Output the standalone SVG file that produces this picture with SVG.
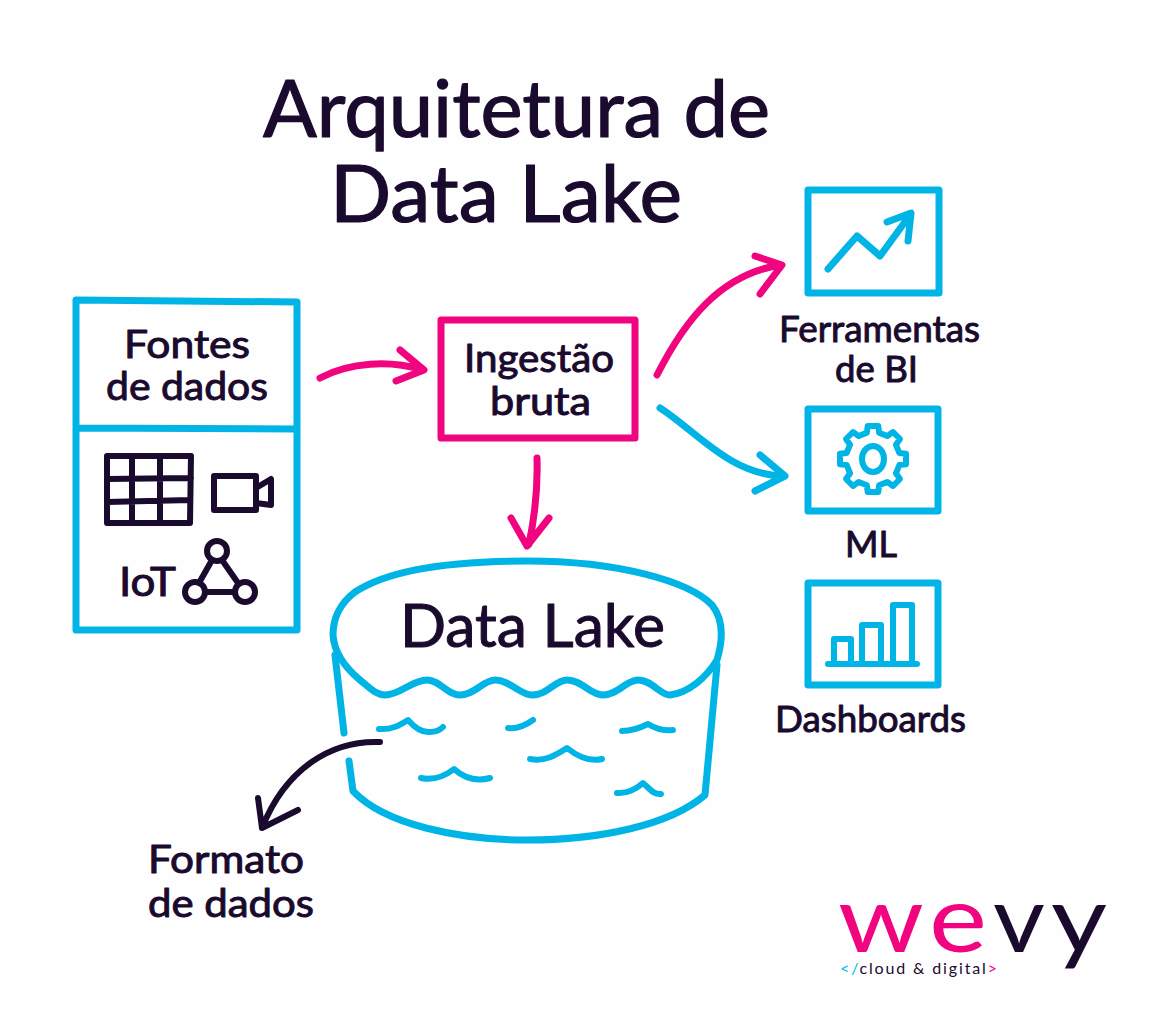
<svg xmlns="http://www.w3.org/2000/svg" width="1151" height="1024" viewBox="0 0 1151 1024">
<style>
text{font-family:"Lato","Noto Sans",sans-serif;fill:#1a0b2e;stroke:#1a0b2e;stroke-width:1px;text-anchor:start;stroke-linejoin:round}
.c,.p,.d{fill:none;stroke-linecap:round;stroke-linejoin:round}
.c{stroke:#00b5e6;stroke-width:7}
.p{stroke:#f0047f;stroke-width:7}
.d{stroke:#1a0b2e;stroke-width:6}
.t{stroke:#00b5e6;stroke-width:6;fill:none;stroke-linecap:round;stroke-linejoin:round}
.logo{stroke-width:0}
</style>
<rect width="1151" height="1024" fill="#fefefe"/>
<g id="title">
<text x="263" y="137" font-size="79" textLength="507" lengthAdjust="spacingAndGlyphs" style="stroke-width:1.2px">Arquitetura de</text>
<text x="330" y="222" font-size="79" textLength="352" lengthAdjust="spacingAndGlyphs" style="stroke-width:1.2px">Data Lake</text>
</g>
<g id="connectors">
<path class="p" d="M320,378C350,362 390,360 422,370M400,350L424,370L396,381"/>
<path class="p" d="M537,458C538,490 534,520 529,544M511,518L527,546L549,518"/>
<path class="p" d="M657,375C685,320 720,275 780,265M755,256L782,265L760,294"/>
<path class="c" d="M660,408C695,430 730,475 783,476M760,455L785,476L755,491"/>
<path class="d" d="M380,742C330,740 285,770 262,828M258,798L262,828L298,810"/>
</g>
<g id="fontes">
<path class="c" d="M76,300L297,302L297,630L76,630ZM76,428L297,429"/>
<text x="124" y="358" font-size="39" textLength="126" lengthAdjust="spacingAndGlyphs">Fontes</text>
<text x="106" y="400" font-size="39" textLength="162" lengthAdjust="spacingAndGlyphs">de dados</text>
<path class="d" d="M107,456H191L190,523H107ZM132,456V523M160,456V523M107,479L191,478M107,502L190,500"/>
<path class="d" d="M214,476H256V510H214ZM256,488L271,479V505L256,503"/>
<text x="119" y="596" font-size="41" textLength="57" lengthAdjust="spacingAndGlyphs">IoT</text>
<path class="d" d="M212,560L199,583M222,560L238,583M205,592H234"/>
<circle class="d" cx="217" cy="551" r="10"/><circle class="d" cx="195" cy="592" r="10"/><circle class="d" cx="245" cy="592" r="10"/>
</g>
<g id="ingestao">
<path class="p" d="M441,320L635,320L635,438L441,438Z"/>
<text x="464" y="372" font-size="39" textLength="150" lengthAdjust="spacingAndGlyphs">Ingestão</text>
<text x="490" y="415" font-size="39" textLength="101" lengthAdjust="spacingAndGlyphs">bruta</text>
</g>
<g id="bi">
<path class="c" d="M808,190H939V293H808Z"/>
<path class="c" d="M828,269L857,236L880,256L910,215M887,222L911,213L908,241"/>
<text x="779" y="342" font-size="37" textLength="201" lengthAdjust="spacingAndGlyphs">Ferramentas</text>
<text x="835" y="382" font-size="37" textLength="83" lengthAdjust="spacingAndGlyphs">de BI</text>
</g>
<g id="ml">
<path class="c" d="M808,409H938V511H808Z"/>
<g transform="translate(873,459)">
<path class="t" d="M26.3,-6.1L33,-5.3L33,5.3L26.3,6.1L22.9,14.3L27,20L20,27L14.3,22.9L6.1,26.3L5.3,33L-5.3,33L-6.1,26.3L-14.3,22.9L-20,27L-27,20L-22.9,14.3L-26.3,6.1L-33,5.3L-33,-5.3L-26.3,-6.1L-22.9,-14.3L-27,-20L-20,-27L-14.3,-22.9L-6.1,-26.3L-5.3,-33L5.3,-33L6.1,-26.3L14.3,-22.9L20,-27L27,-20L22.9,-14.3Z"/>
<ellipse class="t" cx="0" cy="0" rx="11" ry="13"/>
</g>
<text x="845" y="557" font-size="37" textLength="52" lengthAdjust="spacingAndGlyphs">ML</text>
</g>
<g id="dashboards">
<path class="c" d="M808,583H938V685H808Z"/>
<path class="t" d="M834,662V639H851V662M862,662V625H881V662M893,662V605H912V662M828,664H917"/>
<text x="775" y="732" font-size="37" textLength="191" lengthAdjust="spacingAndGlyphs">Dashboards</text>
</g>
<g id="datalake">
<path class="c" d="M717,660C723,640 724,620 712,605C690,582 620,561 527,561C440,561 385,572 355,592C338,605 333,620 333,635C334,650 342,665 360,680C370,688 376,695 385,695C400,695 412,680 427,680C440,680 447,695 460,695C475,695 483,680 495,680C510,680 520,695 532,695C548,695 555,680 567,680C582,680 590,695 603,695C618,695 626,680 638,680C652,680 660,695 670,695C688,693 706,678 717,660Z"/>
<path class="c" d="M335,655L344,733M349,761L353,791C385,825 460,840 527,840C600,840 670,825 705,795L717,665"/>
<path class="t" d="M379,729C392,730 400,725 408,720C415,728 422,733 430,732C436,732 440,730 443,727M508,728C516,729 526,725 533,720M622,731C632,731 640,728 648,724C656,729 665,731 673,730M530,759C545,762 556,755 567,748C577,756 590,762 602,759M421,778C435,781 445,776 454,769C464,778 475,782 490,778M617,793C628,794 636,789 643,783C650,789 654,795 661,794"/>
<text x="400" y="647" font-size="60" textLength="265" lengthAdjust="spacingAndGlyphs">Data Lake</text>
</g>
<g id="formato">
<text x="148" y="873" font-size="39" textLength="156" lengthAdjust="spacingAndGlyphs">Formato</text>
<text x="148" y="917" font-size="39" textLength="166" lengthAdjust="spacingAndGlyphs">de dados</text>
</g>
<g id="logo">
<text class="logo" x="838" y="952" font-size="93" textLength="86" lengthAdjust="spacingAndGlyphs" style="fill:#f0047f">w</text>
<text class="logo" x="929" y="952" font-size="93" textLength="58" lengthAdjust="spacingAndGlyphs" style="fill:#f0047f">e</text>
<text class="logo" x="993" y="952" font-size="93" textLength="52" lengthAdjust="spacingAndGlyphs">v</text>
<text class="logo" x="1051" y="952" font-size="93" textLength="56" lengthAdjust="spacingAndGlyphs">y</text>
<text class="logo" x="840" y="974" font-size="16" textLength="157" lengthAdjust="spacing"><tspan style="fill:#00b5e6">&lt;/</tspan>cloud &amp; digital<tspan style="fill:#f0047f">&gt;</tspan></text>
</g>
</svg>
